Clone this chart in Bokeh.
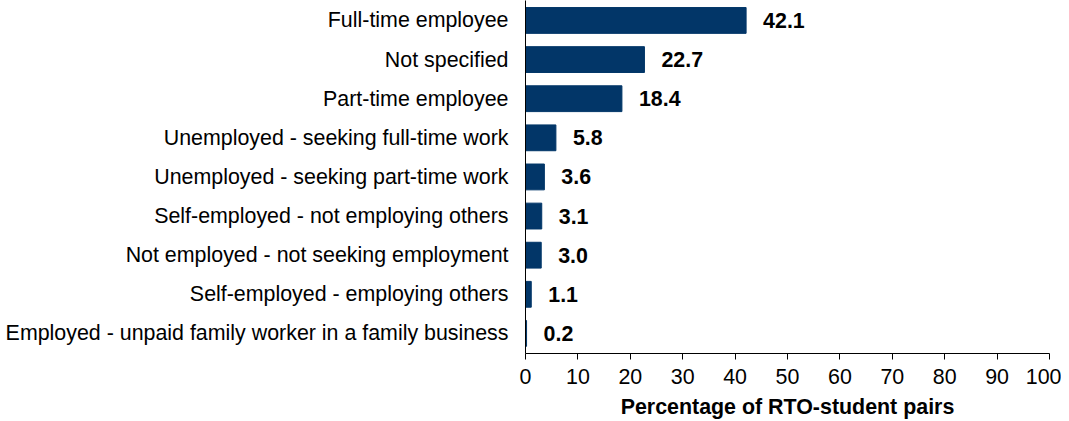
from bokeh.plotting import figure
from bokeh.models import ColumnDataSource, Range1d, FixedTicker, LabelSet
from bokeh.core.properties import value
from bokeh.embed import file_html
from bokeh.resources import INLINE

categories = [
    "Full-time employee",
    "Not specified",
    "Part-time employee",
    "Unemployed - seeking full-time work",
    "Unemployed - seeking part-time work",
    "Self-employed - not employing others",
    "Not employed - not seeking employment",
    "Self-employed - employing others",
    "Employed - unpaid family worker in a family business",
]
values = [42.1, 22.7, 18.4, 5.8, 3.6, 3.1, 3.0, 1.1, 0.2]
x_ticks = [0, 10, 20, 30, 40, 50, 60, 70, 80, 90, 100]

n = len(categories)
ypos = [n - 1 - i for i in range(n)]
labels = ["%.1f" % v for v in values]

src = ColumnDataSource(dict(y=ypos, v=values, lab=labels))

FONT = "Liberation Sans"
BAR = "#023668"
FS = "21.4px"

p = figure(width=1061, height=421, output_backend="svg", toolbar_location=None,
           x_range=Range1d(0, 100), y_range=Range1d(-0.513, n - 1 + 0.51),
           min_border_left=525, min_border_right=12, min_border_top=0, min_border_bottom=0)
p.outline_line_color = None
p.xgrid.grid_line_color = None
p.ygrid.grid_line_color = None
p.background_fill_color = "white"
p.border_fill_color = "white"

p.hbar(y="y", right="v", left=0, height=0.66, source=src, fill_color=BAR, line_color=BAR)

lbl = LabelSet(x="v", y="y", text="lab", source=src, x_offset=17, y_offset=0,
               text_align="left", text_baseline="middle", text_font=value(FONT),
               text_font_size=FS, text_font_style="bold", text_color="black")
p.add_layout(lbl)

xa = p.xaxis[0]
xa.ticker = FixedTicker(ticks=x_ticks)
xa.minor_tick_line_color = None
xa.major_tick_in = 0
xa.major_tick_out = 6
xa.axis_line_color = "black"
xa.major_tick_line_color = "black"
xa.major_label_text_font = FONT
xa.major_label_text_font_size = FS
xa.major_label_text_color = "black"
xa.major_label_standoff = 9
xa.axis_label = "Percentage of RTO-student pairs"
xa.axis_label_text_font = FONT
xa.axis_label_text_font_size = FS
xa.axis_label_text_font_style = "bold"
xa.axis_label_text_color = "black"
xa.axis_label_standoff = 8

ya = p.yaxis[0]
ya.ticker = FixedTicker(ticks=ypos)
ya.major_label_overrides = {y: c for y, c in zip(ypos, categories)}
ya.minor_tick_line_color = None
ya.major_tick_line_color = None
ya.major_tick_in = 0
ya.major_tick_out = 0
ya.axis_line_color = "black"
ya.major_label_text_font = FONT
ya.major_label_text_font_size = FS
ya.major_label_text_color = "black"
ya.major_label_standoff = 17

open("out.html", "w").write(file_html(p, INLINE))
